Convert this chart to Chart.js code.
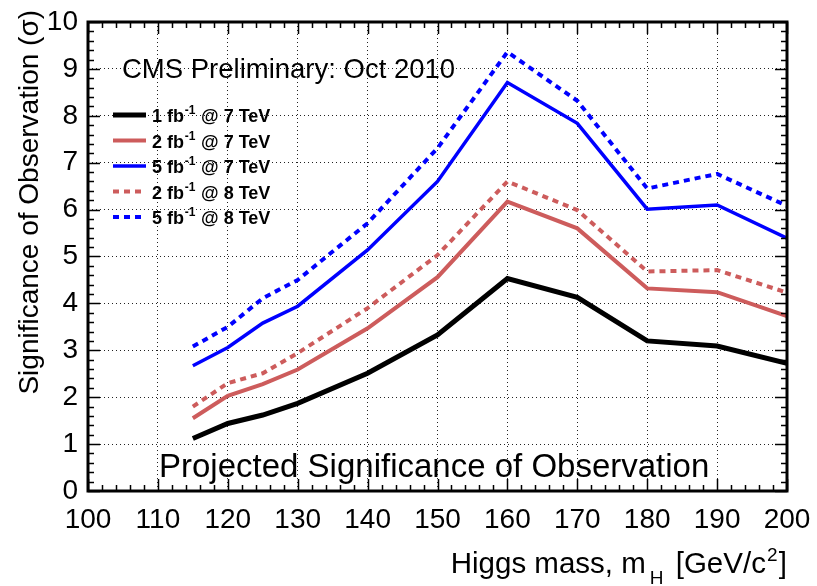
<!DOCTYPE html>
<html>
<head>
<meta charset="utf-8">
<script src="https://cdn.jsdelivr.net/npm/chart.js@4.4.1/dist/chart.umd.min.js"></script>
<style>
  html, body { margin: 0; padding: 0; background: #fff; }
  #wrap { width: 817px; height: 586px; position: relative; }
</style>
</head>
<body>
<div id="wrap"><canvas id="sigChart"></canvas></div>
<script>
// Projected significance of observation vs Higgs mass

const masses = [115, 120, 125, 130, 140, 150, 160, 170, 180, 190, 200];
const sig1fb7 = [1.12, 1.44, 1.62, 1.87, 2.51, 3.33, 4.53, 4.13, 3.20, 3.09, 2.72];
const sig2fb7 = [1.55, 2.03, 2.28, 2.59, 3.47, 4.56, 6.17, 5.60, 4.32, 4.24, 3.73];
const sig5fb7 = [2.67, 3.06, 3.58, 3.94, 5.14, 6.60, 8.71, 7.84, 6.01, 6.10, 5.39];
const sig2fb8 = [1.80, 2.30, 2.51, 2.94, 3.90, 5.03, 6.60, 5.99, 4.68, 4.71, 4.23];
const sig5fb8 = [3.08, 3.50, 4.11, 4.50, 5.71, 7.31, 9.36, 8.32, 6.45, 6.76, 6.08];

const seriesLabels = [
    '1 fb^{-1} @ 7 TeV',
    '2 fb^{-1} @ 7 TeV',
    '5 fb^{-1} @ 7 TeV',
    '2 fb^{-1} @ 8 TeV',
    '5 fb^{-1} @ 8 TeV'
];

const xTickValues = [100, 110, 120, 130, 140, 150, 160, 170, 180, 190, 200];
const xTickLabels = ['100', '110', '120', '130', '140', '150', '160', '170', '180', '190', '200'];
const yTickValues = [0, 1, 2, 3, 4, 5, 6, 7, 8, 9, 10];
const yTickLabels = ['0', '1', '2', '3', '4', '5', '6', '7', '8', '9', '10'];

const xTitle = 'Higgs mass, m_{H} [GeV/c^{2}]';
const yTitle = 'Significance of Observation (\u03c3)';
const topNote = 'CMS Preliminary: Oct 2010';
const bottomNote = 'Projected Significance of Observation';

const FONT = '"Liberation Sans", Arial, Helvetica, sans-serif';

function pts(ys) {
    return masses.map((m, i) => ({ x: m, y: ys[i] }));
}

// draws text with ^{..} / _{..} pieces
function drawRich(ctx, str, x, y, size, weight, align, subGap) {
    const parts = [];
    const re = /([_^])\{([^}]*)\}/g;
    let last = 0, m;
    while ((m = re.exec(str))) {
        if (m.index > last) parts.push({ t: str.slice(last, m.index), k: 0 });
        parts.push({ t: m[2], k: m[1] === '^' ? 1 : -1 });
        last = re.lastIndex;
    }
    if (last < str.length) parts.push({ t: str.slice(last), k: 0 });
    const fontFor = k => weight + ' ' + (k ? Math.round(size * 0.65) : size) + 'px ' + FONT;
    const padFor = k => k === -1 && subGap ? subGap : (k ? size * 0.04 : 0);
    let total = 0;
    parts.forEach(p => {
        ctx.font = fontFor(p.k);
        p.w = ctx.measureText(p.t).width + padFor(p.k) * 2;
        total += p.w;
    });
    let cx = align === 'right' ? x - total : (align === 'center' ? x - total / 2 : x);
    ctx.textAlign = 'left';
    ctx.textBaseline = 'alphabetic';
    parts.forEach(p => {
        ctx.font = fontFor(p.k);
        const dy = p.k === 1 ? -size * 0.42 : (p.k === -1 ? size * 0.36 : 0);
        ctx.fillText(p.t, cx + padFor(p.k), y + dy);
        cx += p.w;
    });
}

const rootStyle = {
    id: 'rootStyle',
    beforeDraw(chart) {
        const ctx = chart.ctx;
        ctx.save();
        ctx.fillStyle = '#fff';
        ctx.fillRect(0, 0, chart.width, chart.height);
        ctx.restore();
    },
    afterDraw(chart) {
        const ctx = chart.ctx;
        const a = chart.chartArea;
        const xs = chart.scales.x, ys = chart.scales.y;
        ctx.save();
        ctx.strokeStyle = '#000';
        ctx.fillStyle = '#000';

        // tick marks on all four sides
        ctx.lineWidth = 1.5;
        ctx.beginPath();
        for (let v = 0; v <= 10.001; v += 0.2) {
            const py = Math.round(ys.getPixelForValue(v)) + 0.5;
            const major = Math.abs(v - Math.round(v)) < 1e-6;
            const len = major ? 12 : 6;
            ctx.moveTo(a.left, py); ctx.lineTo(a.left + len, py);
            ctx.moveTo(a.right, py); ctx.lineTo(a.right - len, py);
        }
        for (let v = 100; v <= 200.001; v += 2) {
            const px = Math.round(xs.getPixelForValue(v)) + 0.5;
            const major = Math.abs(v / 10 - Math.round(v / 10)) < 1e-6;
            const len = major ? 12 : 6;
            ctx.moveTo(px, a.bottom); ctx.lineTo(px, a.bottom - len);
            ctx.moveTo(px, a.top); ctx.lineTo(px, a.top + len);
        }
        ctx.stroke();

        // frame
        ctx.lineWidth = 3;
        ctx.strokeRect(a.left, a.top, a.right - a.left, a.bottom - a.top);

        // texts inside the frame
        ctx.textAlign = 'left';
        ctx.textBaseline = 'alphabetic';
        ctx.font = '27.5px ' + FONT;
        ctx.fillText(topNote, 122, 78);
        ctx.font = '33px ' + FONT;
        ctx.fillText(bottomNote, 159, 477);

        // legend
        chart.data.datasets.forEach((ds, i) => {
            const ly = 115 + i * 25.5;
            ctx.save();
            ctx.strokeStyle = ds.borderColor;
            ctx.lineWidth = ds.borderWidth;
            ctx.setLineDash(ds.borderDash || []);
            ctx.beginPath();
            ctx.moveTo(113, ly); ctx.lineTo(146, ly);
            ctx.stroke();
            ctx.restore();
            ctx.fillStyle = '#000';
            drawRich(ctx, seriesLabels[i], 152, ly + 7, 18, 'bold', 'left');
        });

        // axis titles
        drawRich(ctx, xTitle, 787, 573, 29.5, 'normal', 'right', 4);
        ctx.save();
        ctx.translate(30, 10);
        ctx.rotate(-Math.PI / 2);
        ctx.font = '28px ' + FONT;
        ctx.textAlign = 'right';
        ctx.textBaseline = 'middle';
        ctx.fillText(yTitle, 0, 0);
        ctx.restore();

        ctx.restore();
    }
};

const ctxSig = document.getElementById('sigChart');
new Chart(ctxSig, {
    type: 'line',
    data: {
        datasets: [
            { label: seriesLabels[0], data: pts(sig1fb7), borderColor: '#000000', borderWidth: 5 },
            { label: seriesLabels[1], data: pts(sig2fb7), borderColor: '#cd5c5c', borderWidth: 4 },
            { label: seriesLabels[2], data: pts(sig5fb7), borderColor: '#0000ff', borderWidth: 3.5 },
            { label: seriesLabels[3], data: pts(sig2fb8), borderColor: '#cd5c5c', borderWidth: 4, borderDash: [6, 5] },
            { label: seriesLabels[4], data: pts(sig5fb8), borderColor: '#0000ff', borderWidth: 4, borderDash: [6, 5] }
        ]
    },
    options: {
        responsive: true,
        maintainAspectRatio: false,
        animation: false,
        layout: { padding: { top: 22, right: 30, left: 0, bottom: 0 } },
        elements: {
            point: { radius: 0 },
            line: { tension: 0, borderCapStyle: 'butt', borderJoinStyle: 'miter' }
        },
        plugins: {
            legend: { display: false },
            tooltip: { enabled: false }
        },
        scales: {
            x: {
                type: 'linear',
                min: 100,
                max: 200,
                afterBuildTicks: s => { s.ticks = xTickValues.map(v => ({ value: v })); },
                afterFit: s => { s.height = 95; s.paddingLeft = 0; s.paddingRight = 0; },
                grid: { color: '#222', lineWidth: 1, drawTicks: false },
                border: { display: false, dash: [1, 3] },
                ticks: {
                    color: '#000',
                    padding: 12,
                    maxRotation: 0,
                    font: { family: FONT, size: 28 },
                    callback: v => xTickLabels[xTickValues.indexOf(v)]
                }
            },
            y: {
                min: 0,
                max: 10,
                afterBuildTicks: s => { s.ticks = yTickValues.map(v => ({ value: v })); },
                afterFit: s => { s.width = 88; s.paddingTop = 0; s.paddingBottom = 0; },
                grid: { color: '#222', lineWidth: 1, drawTicks: false },
                border: { display: false, dash: [1, 3] },
                ticks: {
                    color: '#000',
                    padding: 10,
                    font: { family: FONT, size: 28 },
                    callback: v => yTickLabels[yTickValues.indexOf(v)]
                }
            }
        }
    },
    plugins: [rootStyle]
});
</script>
</body>
</html>
